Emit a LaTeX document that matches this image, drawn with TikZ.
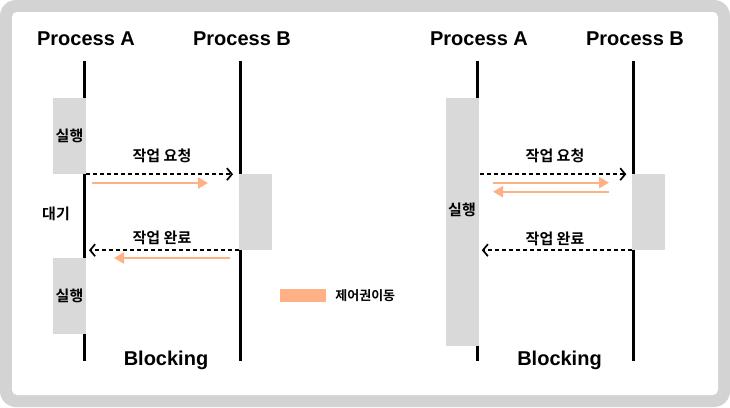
\documentclass[tikz,border=0pt]{standalone}
\usepackage{fontspec}
\setmainfont{Liberation Sans}
\newfontfamily\kr{Noto Sans CJK KR}[BoldFont={Noto Sans CJK KR Bold}]
\usepackage{tikz}
\usetikzlibrary{positioning,arrows.meta,calc}
\definecolor{framegray}{HTML}{D3D3D3}
\definecolor{boxgray}{HTML}{D9D9D9}
\definecolor{ctrl}{HTML}{FFB085}

\begin{document}
\begin{tikzpicture}[x=1pt, y=-1pt,
    title/.style={font=\bfseries\fontsize{20}{24}\selectfont},
    kor/.style={font=\kr\bfseries\fontsize{15}{17}\selectfont, inner sep=0pt},
    lifeline/.style={line width=3pt},
    execbox/.style={fill=boxgray, minimum width=33pt, minimum height=76pt, inner sep=0pt},
    call/.style={line width=1.7pt, dash pattern=on 4pt off 3pt, -{Straight Barb[length=5pt,width=12pt,line width=1.7pt]}},
    handoff/.style={ctrl, line width=2pt, -{Triangle[length=10pt,width=11pt]}}]
    \useasboundingbox (0,0) rectangle (730,407);
    \fill[framegray, rounded corners=16pt] (0,0) rectangle (730,407);
    \fill[white, rounded corners=5pt] (12,12) rectangle (718,395);

    \node[title] (pa1) at (86,39) {Process A};
    \node[title] (pb1) at (242,39) {Process B};
    \node[title] (pa2) at (479,39) {Process A};
    \node[title] (pb2) at (635,39) {Process B};

    \coordinate (a1top) at (84.5,61);
    \coordinate (a1bot) at (84.5,361);
    \coordinate (b1top) at (240,61);
    \coordinate (b1bot) at (240,361);
    \coordinate (a2top) at (477.3,61);
    \coordinate (a2bot) at (477.3,361);
    \coordinate (b2top) at (633.3,61);
    \coordinate (b2bot) at (633.3,361);
    \draw[lifeline] (a1top) -- (a1bot);
    \draw[lifeline] (b1top) -- (b1bot);
    \draw[lifeline] (a2top) -- (a2bot);
    \draw[lifeline] (b2top) -- (b2bot);

    \node[execbox] (ax1) at (69.5,136) {};
    \node[execbox] (ax2) at (69.5,296) {};
    \node[execbox] (bx1) at (255.5,212) {};
    \node[execbox, minimum width=32.7pt, minimum height=247.7pt] (ax3) at (462.3,221.8) {};
    \node[execbox] (bx2) at (648.3,212) {};

    \node[kor] at (ax1) {실행};
    \node[kor] at (ax2) {실행};
    \node[kor] at (462,210) {실행};
    \node[kor] (wait) at (56,214) {대기};

    \draw[call, shorten >=7pt] (ax1.south east) -- (ax1.south east -| b1top);
    \draw[call, shorten >=4.5pt] (bx1.south west) -- (bx1.south west -| a1top);
    \draw[call, shorten <=1.5pt, shorten >=7pt] (ax1.south east -| ax3.east) -- (ax1.south east -| b2top);
    \draw[call, shorten >=4.5pt] (bx2.south west) -- (bx2.south west -| a2top);

    \node[kor] (req1) at (162,156) {작업 요청};
    \node[kor] (done1) at (162,238) {작업 완료};
    \node[kor] (req2) at (555,156) {작업 요청};
    \node[kor] (done2) at (555,238.5) {작업 완료};

    \coordinate (h1s) at (92,183);
    \coordinate (h1e) at (208,183);
    \coordinate (h2s) at (230,258);
    \coordinate (h2e) at (114,258);
    \coordinate (h3s) at (492.7,182.7);
    \coordinate (h3e) at (609,182.7);
    \coordinate (h4s) at (609,191.7);
    \coordinate (h4e) at (493,191.7);
    \draw[handoff] (h1s) -- (h1e);
    \draw[handoff] (h2s) -- (h2e);
    \draw[handoff] (h3s) -- (h3e);
    \draw[handoff] (h4s) -- (h4e);

    \node[fill=ctrl, minimum width=46pt, minimum height=13pt, inner sep=0pt] (legend) at (303,295.5) {};
    \node[kor, font=\kr\bfseries\fontsize{13}{15}\selectfont, right=9pt of legend] (legendtxt) {제어권이동};

    \node[title] (blk1) at (166,360) {Blocking};
    \node[title] (blk2) at (559.5,360) {Blocking};
\end{tikzpicture}
\end{document}
